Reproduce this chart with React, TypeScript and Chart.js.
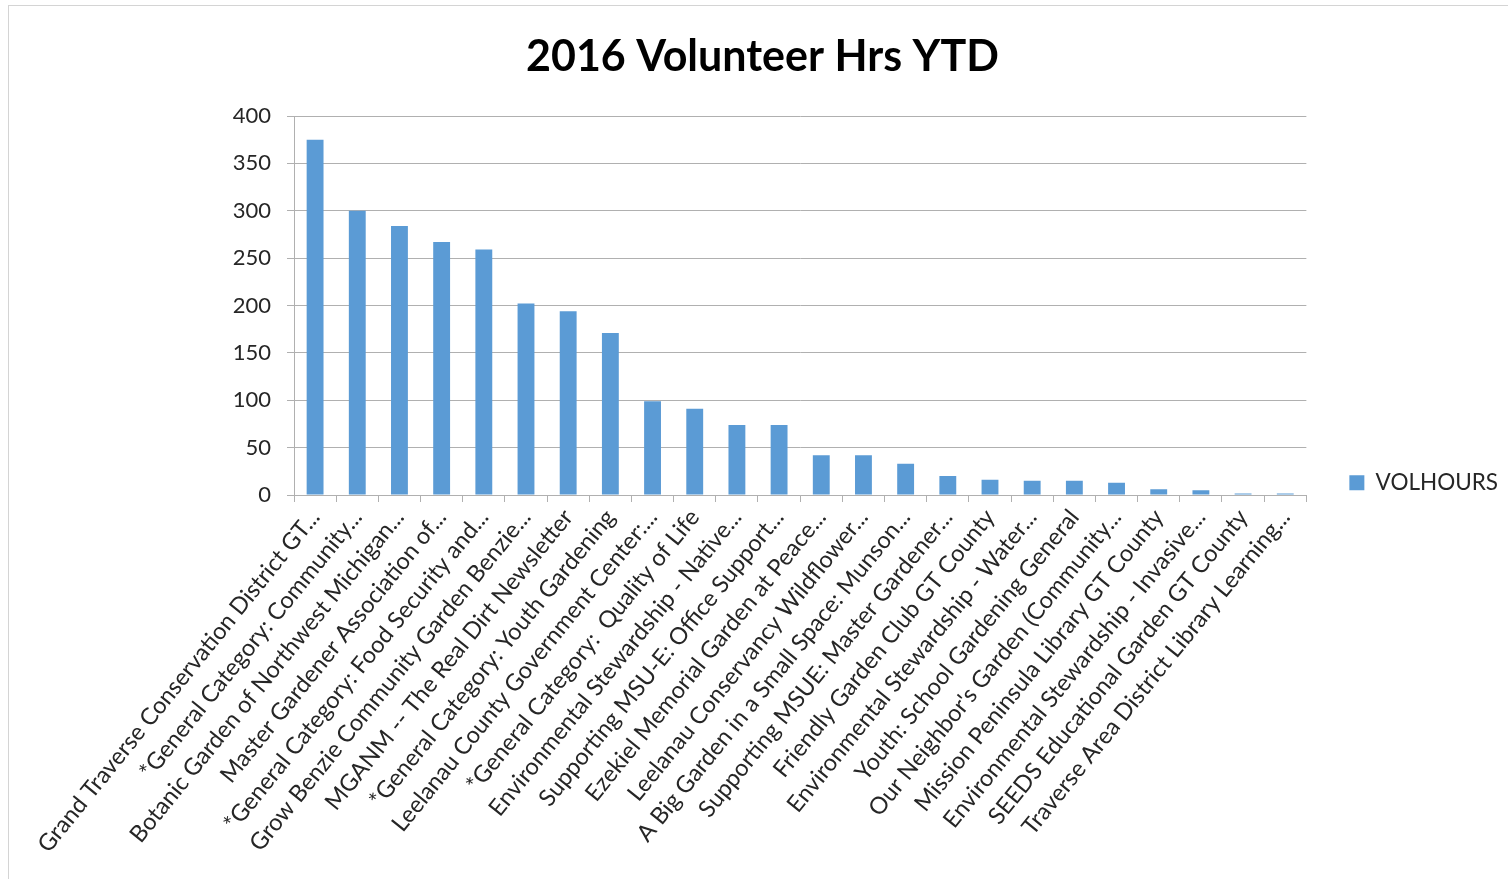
import React, { useEffect, useRef } from "react";
import { Chart, registerables } from "chart.js";

Chart.register(...registerables);

const TITLE = "2016 Volunteer Hrs YTD";
const SERIES_LABEL = "VOLHOURS";

const categories: string[] = [
  "Grand Traverse Conservation District GT...",
  "*General Category: Community...",
  "Botanic Garden of Northwest Michigan...",
  "Master Gardener Association of...",
  "*General Category: Food Security and...",
  "Grow Benzie Community Garden Benzie...",
  "MGANM -- The Real Dirt Newsletter",
  "*General Category: Youth Gardening",
  "Leelanau County Government Center:...",
  "*General Category:  Quality of Life",
  "Environmental Stewardship - Native...",
  "Supporting MSU-E: Office Support...",
  "Ezekiel Memorial Garden at Peace...",
  "Leelanau Conservancy Wildflower...",
  "A Big Garden in a Small Space: Munson...",
  "Supporting MSUE: Master Gardener...",
  "Friendly Garden Club GT County",
  "Environmental Stewardship - Water...",
  "Youth: School Gardening General",
  "Our Neighbor's Garden (Community...",
  "Mission Peninsula Library GT County",
  "Environmental Stewardship - Invasive...",
  "SEEDS Educational Garden GT County",
  "Traverse Area District Library Learning...",
];

const volHours: number[] = [
  375, 300, 284, 267, 259, 202, 194, 171, 99, 91, 74, 74,
  42, 42, 33, 20, 16, 15, 15, 13, 6, 5, 1.5, 1.5,
];

const yTicks: number[] = [0, 50, 100, 150, 200, 250, 300, 350, 400];

export default function App() {
  const canvasRef = useRef<HTMLCanvasElement | null>(null);

  useEffect(() => {
    if (!canvasRef.current) return;
    const gridColor = "#b0b0b0";
    const textColor = "#262626";
    const chart = new Chart(canvasRef.current, {
      type: "bar",
      data: {
        labels: categories,
        datasets: [
          {
            label: SERIES_LABEL,
            data: volHours,
            backgroundColor: "#5B9BD5",
            borderWidth: 0,
            barPercentage: 0.4,
            categoryPercentage: 1,
          },
        ],
      },
      options: {
        responsive: false,
        animation: false,
        layout: { padding: { left: 17, right: 0, top: 0, bottom: 0 } },
        plugins: {
          tooltip: { enabled: false },
          title: {
            display: true,
            text: TITLE,
            color: "#000",
            font: { family: "Lato", size: 43, weight: "bold" },
            padding: { top: 31, bottom: 33.4 },
          },
          legend: {
            display: true,
            position: "right",
            align: "start",
            title: {
              display: true,
              text: " ",
              font: { size: 12 },
              padding: { top: 0, bottom: 414 },
            },
            labels: {
              boxWidth: 15,
              boxHeight: 15,
              padding: 43,
              color: textColor,
              font: { family: "Lato", size: 22.5 },
            },
          },
        },
        scales: {
          x: {
            offset: true,
            grid: {
              display: true,
              offset: true,
              drawOnChartArea: false,
              drawTicks: true,
              tickLength: 7,
              color: gridColor,
            },
            border: { display: true, color: gridColor, width: 1 },
            ticks: {
              autoSkip: false,
              maxRotation: 51,
              minRotation: 51,
              padding: 2,
              color: textColor,
              font: { family: "Lato", size: 23.5 },
            },
            afterFit: (scale: any) => {
              scale.height = 384;
            },
          },
          y: {
            min: 0,
            max: 400,
            afterBuildTicks: (scale: any) => {
              scale.ticks = yTicks.map((v) => ({ value: v }));
            },
            grid: {
              color: gridColor,
              tickLength: 7,
              drawTicks: true,
            },
            border: { display: true, color: gridColor, width: 1 },
            ticks: {
              padding: 16,
              color: textColor,
              font: { family: "Lato", size: 22 },
            },
            afterFit: (scale: any) => {
              scale.width = 277;
            },
          },
        },
      },
    });
    return () => chart.destroy();
  }, []);

  return (
    <div
      style={{
        position: "fixed",
        left: 0,
        top: 0,
        width: 1508,
        height: 879,
        background: "#fff",
      }}
    >
      <div
        style={{
          position: "absolute",
          left: 8,
          top: 5,
          width: 1500,
          height: 874,
          borderLeft: "1px solid #d4d4d4",
          borderTop: "1px solid #d4d4d4",
          boxSizing: "border-box",
        }}
      />
      <canvas
        ref={canvasRef}
        width={1508}
        height={879}
        style={{ position: "absolute", left: 0, top: 0, width: 1508, height: 879 }}
      />
    </div>
  );
}
